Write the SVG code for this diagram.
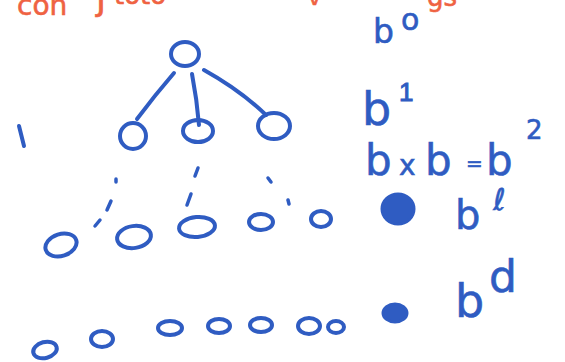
<svg xmlns="http://www.w3.org/2000/svg" width="565" height="362" viewBox="0 0 565 362">
<style>
.n{fill:none;stroke:#2f5cc2;stroke-width:4;stroke-linecap:round}
.f{fill:#2f5cc2;stroke:#2f5cc2;stroke-width:3}
.e{stroke:#2f5cc2;stroke-width:4;stroke-linecap:round;fill:none}
.t{fill:#2f5cc2;font-family:"DejaVu Sans",sans-serif;stroke:#2f5cc2;stroke-width:0.6}
.o{fill:#ef6242;font-family:"DejaVu Sans",sans-serif;stroke:#ef6242;stroke-width:0.6}
.d{stroke:#2f5cc2;stroke-width:3.5;stroke-linecap:round;fill:none}
</style>
<rect width="565" height="362" fill="#ffffff"/>
<g id="title">
<text class="o" x="17" y="15" font-size="28">con</text>
<text class="o" x="96" y="10" font-size="36">j</text>
<text class="o" x="114" y="4" font-size="26">toto</text>
<text class="o" x="308" y="5" font-size="22">v</text>
<text class="o" x="427" y="6" font-size="26">gs</text>
</g>
<g id="connectors">
<path class="e" d="M174,73 Q155,95 137,119"/>
<path class="e" d="M192,74 Q197,100 199,125"/>
<path class="e" d="M204,70 Q240,90 266,115"/>
</g>
<g id="root"><ellipse class="n" cx="185" cy="54" rx="14" ry="12"/></g>
<g id="child1"><ellipse class="n" cx="133" cy="136" rx="13" ry="13"/></g>
<g id="child2"><ellipse class="n" cx="198" cy="131" rx="15" ry="11"/></g>
<g id="child3"><ellipse class="n" cx="274" cy="126" rx="16" ry="13"/></g>
<g id="mark1"><path class="e" d="M19,126 L24,146"/></g>
<g id="dots">
<path class="d" d="M116,179 L116,182"/>
<path class="d" d="M111,201 L107,210"/>
<path class="d" d="M100,220 L95,226"/>
<path class="d" d="M198,168 L195,176"/>
<path class="d" d="M191,194 L187,205"/>
<path class="d" d="M268,178 L271,182"/>
<path class="d" d="M288,200 L289,204"/>
</g>
<g id="level-l">
<ellipse class="n" cx="61" cy="245" rx="16" ry="11" transform="rotate(-18 61 245)"/>
<ellipse class="n" cx="134" cy="237" rx="17" ry="11" transform="rotate(-8 134 237)"/>
<ellipse class="n" cx="197" cy="227" rx="18" ry="10" transform="rotate(-5 197 227)"/>
<ellipse class="n" cx="261" cy="222" rx="12" ry="8"/>
<ellipse class="n" cx="321" cy="219" rx="10" ry="8"/>
<ellipse class="f" cx="398" cy="209" rx="16" ry="15"/>
</g>
<g id="level-d">
<ellipse class="n" cx="45" cy="350" rx="12" ry="8" transform="rotate(-15 45 350)"/>
<ellipse class="n" cx="102" cy="339" rx="11" ry="8"/>
<ellipse class="n" cx="170" cy="328" rx="12" ry="7"/>
<ellipse class="n" cx="219" cy="326" rx="11" ry="7"/>
<ellipse class="n" cx="261" cy="325" rx="11" ry="7"/>
<ellipse class="n" cx="309" cy="326" rx="11" ry="8"/>
<ellipse class="n" cx="336" cy="327" rx="8" ry="6"/>
<ellipse class="f" cx="395" cy="313" rx="12" ry="9"/>
</g>
<g id="labels">
<text class="t" x="373" y="43" font-size="33">b</text>
<text class="t" x="401" y="30" font-size="30">o</text>
<text class="t" x="362" y="125" font-size="46">b</text>
<text font-family="Liberation Sans,sans-serif" fill="#2f5cc2" stroke="#2f5cc2" stroke-width="1" x="399" y="101" font-size="26">1</text>
<text class="t" x="365" y="175" font-size="42">b</text>
<text class="t" x="399" y="175" font-size="28">x</text>
<text class="t" x="466" y="170" font-size="20">=</text>
<text class="t" x="425" y="175" font-size="42">b</text>
<text class="t" x="486" y="175" font-size="42">b</text>
<text class="t" x="526" y="139" font-size="26">2</text>
<text class="t" x="455" y="229" font-size="40">b</text>
<text class="t" x="493" y="210" font-size="30">ℓ</text>
<text class="t" x="455" y="317" font-size="46">b</text>
<text class="t" x="489" y="292" font-size="44">d</text>
</g>
</svg>
